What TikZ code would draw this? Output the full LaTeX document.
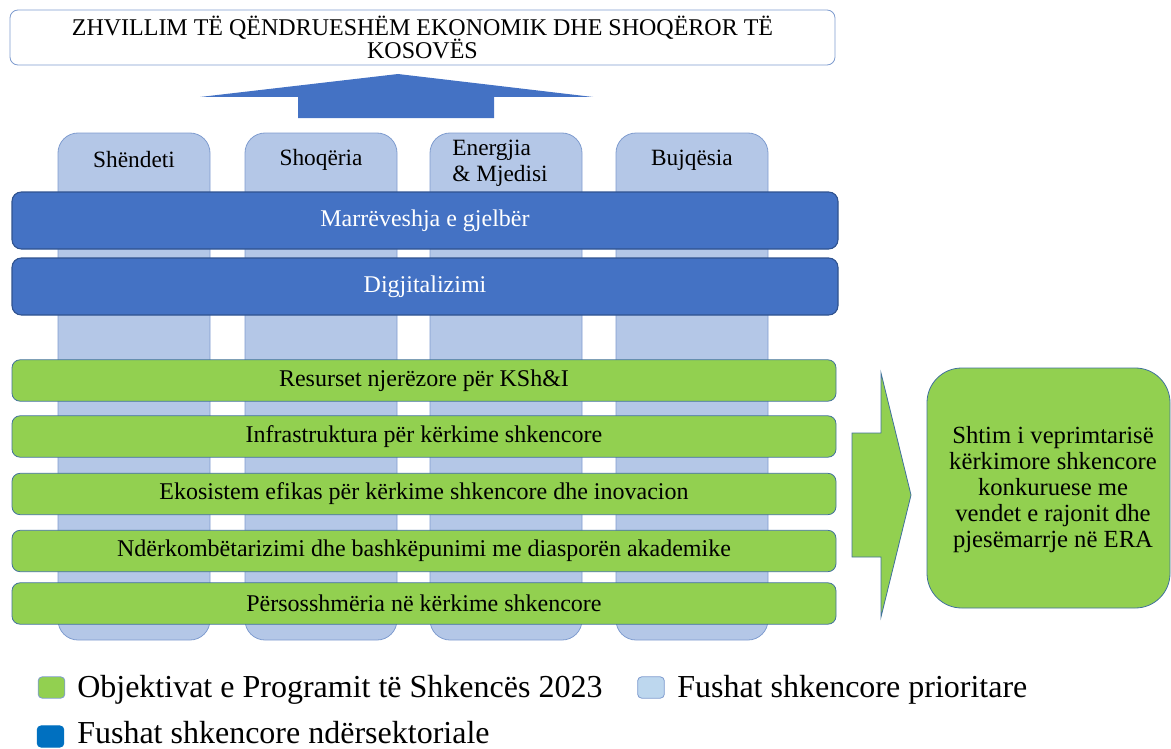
\documentclass[tikz,border=0pt]{standalone}
\usepackage{fontspec}
\setmainfont{Liberation Serif}
\definecolor{cblue}{HTML}{4472C4}
\definecolor{cblueb}{HTML}{2F528F}
\definecolor{clight}{HTML}{B4C7E7}
\definecolor{clightb}{HTML}{7F9CCF}
\definecolor{cgreen}{HTML}{92D050}
\definecolor{cgreenb}{HTML}{41719C}
\definecolor{cdark}{HTML}{0070C0}
\definecolor{clegl}{HTML}{BDD7EE}
\begin{document}
\begin{tikzpicture}[x=0.75pt,y=-0.75pt,
  titlebox/.style={draw=clightb,line width=0.6pt,fill=white,rounded corners=6pt,minimum width=618.75pt,minimum height=41.25pt,inner sep=0pt,align=center,font=\fontsize{18}{17.5}\selectfont},
  colbox/.style={draw=clightb,line width=0.6pt,fill=clight,rounded corners=15pt,minimum width=114pt,minimum height=380.25pt,inner sep=0pt},
  collabel/.style={font=\fontsize{17.5}{19.5}\selectfont,align=left,inner sep=0pt},
  bluebar/.style={draw=cblueb,line width=0.8pt,fill=cblue,rounded corners=7pt,minimum width=619.5pt,minimum height=42.75pt,inner sep=0pt,text=white,font=\fontsize{18}{20}\selectfont},
  greenbar/.style={draw=cgreenb,line width=0.6pt,fill=cgreen,rounded corners=6pt,minimum width=618pt,minimum height=31pt,inner sep=0pt,font=\fontsize{18}{20}\selectfont},
  resbox/.style={draw=cgreenb,line width=0.6pt,fill=cgreen,rounded corners=26pt,minimum width=182.25pt,minimum height=180pt,inner sep=0pt},
  restext/.style={align=center,font=\fontsize{18.5}{19.5}\selectfont,inner sep=0pt},
  legsq/.style={draw=clightb,line width=0.6pt,rounded corners=3pt,minimum width=20pt,minimum height=16pt,inner sep=0pt},
  legtext/.style={anchor=base west,inner sep=0pt,font=\fontsize{24}{26}\selectfont}
]
\useasboundingbox (0,0) rectangle (1171,749);

% title
\node[titlebox] (title) at (422.5,37.5) {ZHVILLIM TË QËNDRUESHËM EKONOMIK DHE SHOQËROR TË\\KOSOVËS};

% up arrow
\fill[cblue] (298,118) -- (298,97) -- (200,97) -- (398,74) -- (593,97) -- (494,97) -- (494,118) -- cycle;

% columns
\node[colbox] (c1) at (134,386.5) {};
\node[colbox] (c2) at (321,386.5) {};
\node[colbox] (c3) at (506,386.5) {};
\node[colbox] (c4) at (692,386.5) {};
\node[collabel] (l1) at (134,160) {Shëndeti};
\node[collabel] (l2) at (321,160) {Shoqëria};
\node[collabel] (l3) at (500,163) {Energjia\\\& Mjedisi};
\node[collabel] (l4) at (692,160) {Bujqësia};

% blue bars
\node[bluebar] (b1) at (425,220.5) {Marrëveshja e gjelbër};
\node[bluebar] (b2) at (425,286.5) {Digjitalizimi};

% green bars
\node[greenbar] (g1) at (424,380.5) {Resurset njerëzore për KSh\&I};
\node[greenbar] (g2) at (424,436.5) {Infrastruktura për kërkime shkencore};
\node[greenbar] (g3) at (424,494) {Ekosistem efikas për kërkime shkencore dhe inovacion};
\node[greenbar] (g4) at (424,551) {Ndërkombëtarizimi dhe bashkëpunimi me diasporën akademike};
\node[greenbar] (g5) at (424,603.5) {Përsosshmëria në kërkime shkencore};

% right arrow
\filldraw[fill=cgreen,draw=cgreenb,line width=0.6pt] (852,433) -- (881,433) -- (881,373) -- (911,495) -- (881,617) -- (881,557) -- (852,557) -- cycle;

% result box
\node[resbox] (res) at (1048.5,488) {};
\node[restext] (rest) at (1053,490) {Shtim i veprimtarisë\\kërkimore shkencore\\konkuruese me\\vendet e rajonit dhe\\pjesëmarrje në ERA};

% legend
\node[legsq,fill=cgreen] (q1) at (51.5,687.5) {};
\node[legtext] (t1) at (77,697) {Objektivat e Programit të Shkencës 2023};
\node[legsq,fill=clegl] (q2) at (651,687.5) {};
\node[legtext] (t2) at (677,697) {Fushat shkencore prioritare};
\node[legsq,fill=cdark,draw=cdark] (q3) at (50.5,736.5) {};
\node[legtext] (t3) at (77,743) {Fushat shkencore ndërsektoriale};
\end{tikzpicture}
\end{document}
